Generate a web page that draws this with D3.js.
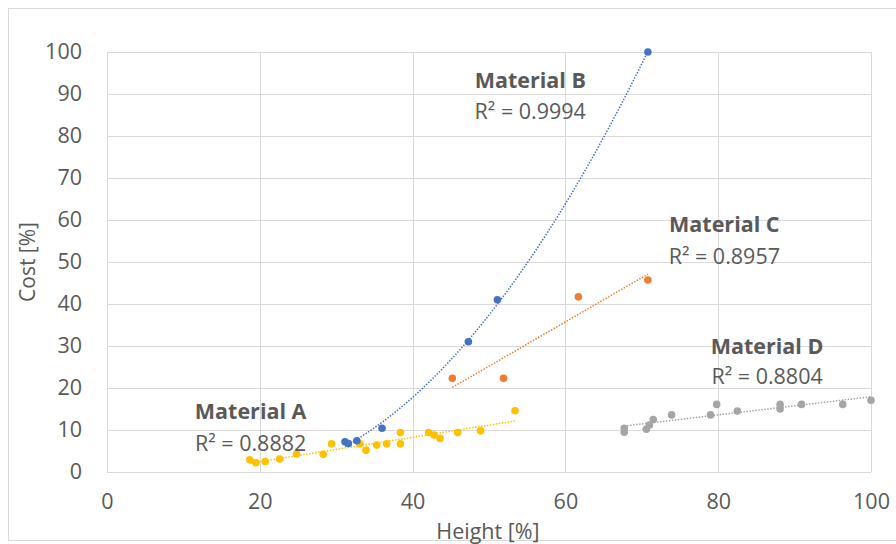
<!DOCTYPE html>
<html>
<head>
<meta charset="utf-8">
<script src="https://cdn.jsdelivr.net/npm/d3@7"></script>
<style>
  body { margin: 0; background: #fff; }
  #chart text { font-family: "Open Sans", "Liberation Sans", sans-serif; fill: #595959; }
</style>
</head>
<body>
<div id="chart"></div>
<script>
// Data: [height %, cost %]
const materialA = [
  [18.7, 2.9], [19.5, 2.2], [20.7, 2.5], [22.6, 3.1], [24.8, 4.3], [28.3, 4.2],
  [29.4, 6.7], [33.1, 6.7], [33.9, 5.2], [35.3, 6.4], [36.6, 6.7], [38.4, 9.4],
  [38.4, 6.7], [42.1, 9.4], [42.8, 8.8], [43.6, 8.0], [45.9, 9.4], [48.9, 9.8],
  [53.4, 14.6]
];
const materialB = [
  [31.15, 7.2], [31.6, 6.8], [32.7, 7.45], [36.0, 10.4], [47.3, 31.0], [51.1, 41.0], [70.8, 100]
];
const materialC = [
  [45.2, 22.3], [51.9, 22.3], [61.7, 41.7], [70.8, 45.7]
];
const materialD = [
  [67.7, 10.4], [67.7, 9.45], [70.6, 10.2], [71.0, 11.2], [71.5, 12.5], [73.9, 13.6],
  [79.0, 13.6], [79.8, 16.1], [82.5, 14.5], [88.1, 16.1], [88.1, 15.0], [90.9, 16.1],
  [96.3, 16.1], [100, 17.1]
];

const seriesNames = ["Material A", "Material B", "Material C", "Material D"];
const rSquared = ["0.8882", "0.9994", "0.8957", "0.8804"];
const trendOrder = [1, 2, 1, 1]; // linear, polynomial(2), linear, linear
// label anchor points in data units: [x, title y, R² y]
const labelSpots = [[18.8, 12.6, 5.0], [55.4, 91.5, 84.0], [80.8, 57.2, 49.6], [86.4, 28.0, 20.9]];

const xTicks = [0, 20, 40, 60, 80, 100];
const yTicks = [0, 10, 20, 30, 40, 50, 60, 70, 80, 90, 100];

const colors = ["#FFC000", "#4472C4", "#ED7D31", "#A5A5A5"];
const allSeries = [materialA, materialB, materialC, materialD];

const width = 896, height = 544;
const margin = { top: 52, right: 25, bottom: 72, left: 107 };

const svg = d3.select("#chart")
  .append("svg")
  .attr("width", width)
  .attr("height", height);

// outer chart frame
svg.append("rect")
  .attr("x", 8.5).attr("y", 8.5)
  .attr("width", 900).attr("height", 532)
  .attr("fill", "none")
  .attr("stroke", "#d9d9d9");

const x = d3.scaleLinear().domain([0, 100]).range([margin.left, width - margin.right]);
const y = d3.scaleLinear().domain([0, 100]).range([height - margin.bottom, margin.top]);

// gridlines
svg.append("g")
  .selectAll("line.h")
  .data(yTicks)
  .enter()
  .append("line")
  .attr("x1", x(0)).attr("x2", x(100))
  .attr("y1", d => Math.round(y(d)) + 0.5).attr("y2", d => Math.round(y(d)) + 0.5)
  .attr("stroke", "#d9d9d9");

svg.append("g")
  .selectAll("line.v")
  .data(xTicks)
  .enter()
  .append("line")
  .attr("y1", y(0)).attr("y2", y(100))
  .attr("x1", d => Math.round(x(d)) + 0.5).attr("x2", d => Math.round(x(d)) + 0.5)
  .attr("stroke", "#d9d9d9");

// axes (text only, Excel style)
const xAxis = svg.append("g")
  .attr("transform", `translate(0,${y(0) + 22})`)
  .call(d3.axisBottom(x).tickValues(xTicks).tickSize(0).tickPadding(0));
const yAxis = svg.append("g")
  .attr("transform", `translate(${x(0) - 25},0)`)
  .call(d3.axisLeft(y).tickValues(yTicks).tickSize(0).tickPadding(0));
[xAxis, yAxis].forEach(a => {
  a.select(".domain").remove();
  a.selectAll("text").style("font-size", "21.5px").attr("fill", "#595959");
});

// axis titles
svg.append("text")
  .attr("x", 488).attr("y", 539)
  .attr("text-anchor", "middle")
  .style("font-size", "21.5px")
  .text("Height [%]");

svg.append("text")
  .attr("transform", `translate(35,${(y(0) + y(100)) / 2}) rotate(-90)`)
  .attr("text-anchor", "middle")
  .style("font-size", "21px")
  .text("Cost [%]");

// least squares polynomial fit
function polyFit(pts, order) {
  const n = order + 1;
  const A = [], b = [];
  for (let i = 0; i < n; i++) {
    A.push(new Array(n).fill(0));
    b.push(0);
  }
  pts.forEach(([px, py]) => {
    for (let i = 0; i < n; i++) {
      for (let j = 0; j < n; j++) A[i][j] += Math.pow(px, i + j);
      b[i] += py * Math.pow(px, i);
    }
  });
  // gaussian elimination
  for (let i = 0; i < n; i++) {
    for (let k = i + 1; k < n; k++) {
      const f = A[k][i] / A[i][i];
      for (let j = i; j < n; j++) A[k][j] -= f * A[i][j];
      b[k] -= f * b[i];
    }
  }
  const c = new Array(n).fill(0);
  for (let i = n - 1; i >= 0; i--) {
    let s = b[i];
    for (let j = i + 1; j < n; j++) s -= A[i][j] * c[j];
    c[i] = s / A[i][i];
  }
  return xv => c.reduce((acc, ci, i) => acc + ci * Math.pow(xv, i), 0);
}

const line = d3.line().x(d => x(d[0])).y(d => y(d[1]));

// trendlines
allSeries.forEach((pts, i) => {
  const f = polyFit(pts, trendOrder[i]);
  const [x0, x1] = d3.extent(pts, d => d[0]);
  const samples = d3.range(0, 61).map(k => {
    const xv = x0 + (x1 - x0) * k / 60;
    return [xv, f(xv)];
  });
  svg.append("path")
    .datum(samples)
    .attr("d", line)
    .attr("fill", "none")
    .attr("stroke", colors[i])
    .attr("stroke-width", 1.5)
    .attr("stroke-dasharray", "1.5,1.5");
});

// points
allSeries.forEach((pts, i) => {
  svg.append("g")
    .selectAll("circle")
    .data(pts)
    .enter()
    .append("circle")
    .attr("cx", d => x(d[0]))
    .attr("cy", d => y(d[1]))
    .attr("r", 3.8)
    .attr("fill", colors[i]);
});

// series labels with R²
labelSpots.forEach((s, i) => {
  svg.append("text")
    .attr("x", x(s[0])).attr("y", y(s[1]))
    .attr("text-anchor", "middle")
    .style("font-size", "21.5px")
    .style("font-weight", "bold")
    .text(seriesNames[i]);
  svg.append("text")
    .attr("x", x(s[0])).attr("y", y(s[2]))
    .attr("text-anchor", "middle")
    .style("font-size", "21.5px")
    .text("R² = " + rSquared[i]);
});
</script>
</body>
</html>
